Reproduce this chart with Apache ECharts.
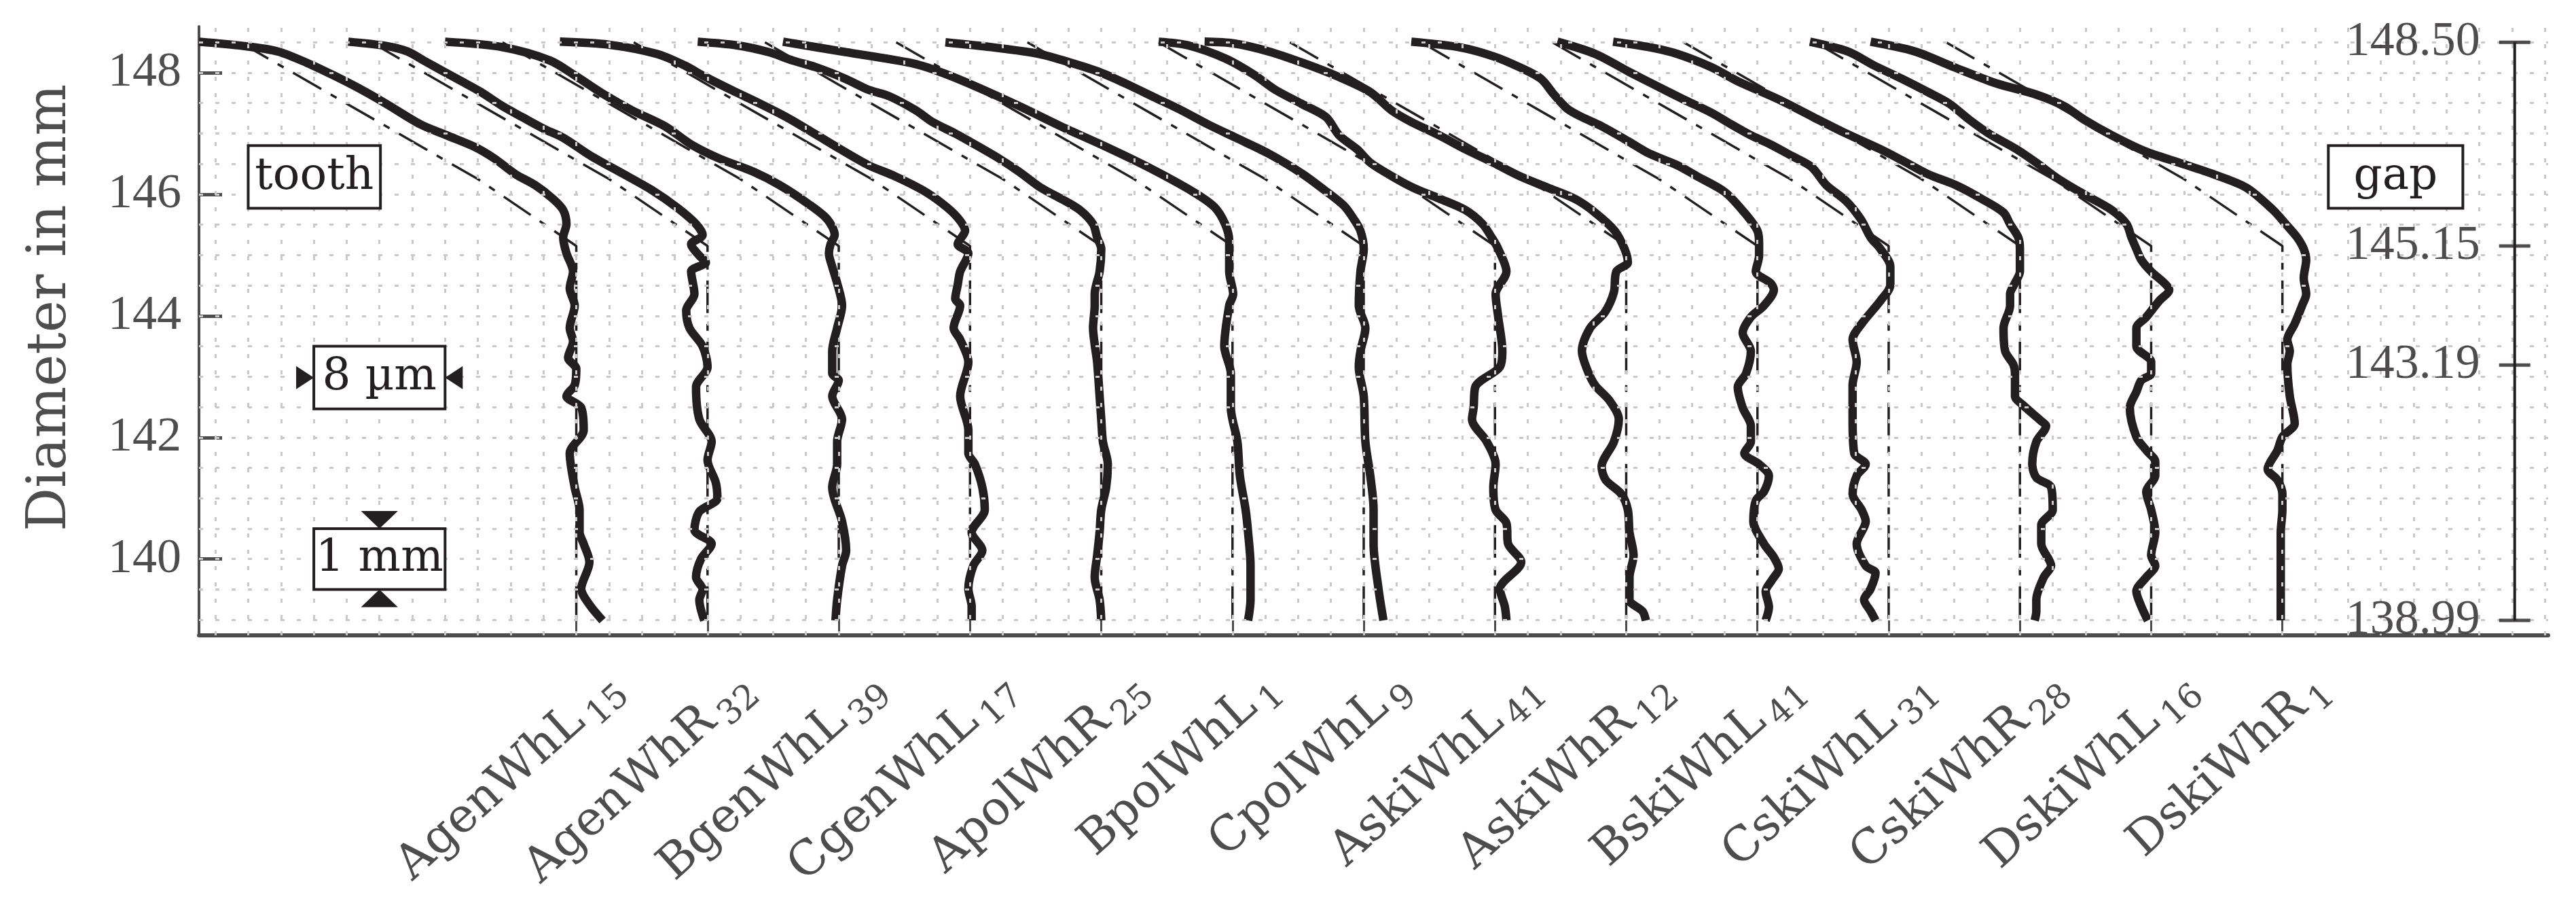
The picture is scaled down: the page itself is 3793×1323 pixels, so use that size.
<!DOCTYPE html>
<html><head><meta charset="utf-8">
<script src="https://cdn.jsdelivr.net/npm/echarts@6/dist/echarts.min.js"></script>
<style>html,body{margin:0;padding:0;background:#fff}#c{width:3793px;height:1323px}</style>
</head><body><div id="c"></div>
<script>
// ---------- data ----------
const profileNames = ['AgenWhL','AgenWhR','BgenWhL','CgenWhL','ApolWhR','BpolWhL','CpolWhL','AskiWhL','AskiWhR','BskiWhL','CskiWhL','CskiWhR','DskiWhL','DskiWhR'];
const profileSubs  = ['15','32','39','17','25','1','9','41','12','41','31','28','16','1'];

// measured profiles: [deviation from profile reference line in µm, diameter in mm]
const AgenWhL15 = [[-23.0,148.51],[-20.3,148.44],[-18.2,148.35],[-16.4,148.16],[-14.9,147.97],[-13.3,147.75],[-11.6,147.49],[-9.5,147.15],[-7.9,146.97],[-6.2,146.78],[-5.0,146.59],[-3.7,146.33],[-2.5,146.15],[-1.4,145.92],[-0.8,145.74],[-0.6,145.51],[-0.8,145.29],[-0.6,145.03],[-0.2,144.73],[-0.4,144.45],[-0.1,144.17],[-0.4,143.80],[-0.2,143.58],[-0.5,143.31],[0.0,143.13],[-0.1,142.86],[-0.6,142.68],[0.3,142.49],[0.45,142.12],[-0.4,141.74],[-0.1,141.18],[0.2,140.81],[0.2,140.44],[0.45,140.25],[0.8,139.95],[0.3,139.51],[0.8,139.25],[1.6,138.99]];
const AgenWhR32 = [[-21.9,148.51],[-19.6,148.44],[-18.3,148.35],[-17.3,148.20],[-16.3,148.05],[-15.0,147.86],[-13.8,147.68],[-12.5,147.45],[-11.3,147.27],[-10.0,147.08],[-8.8,146.93],[-7.1,146.63],[-5.1,146.33],[-3.4,146.07],[-1.8,145.77],[-0.7,145.51],[-0.3,145.33],[-1.0,145.18],[-0.5,144.99],[-0.1,144.88],[-1.0,144.73],[-0.8,144.36],[-1.3,144.09],[-1.1,143.80],[-0.3,143.50],[0.0,143.16],[-0.7,142.83],[-0.5,142.30],[0.25,141.93],[0.0,141.63],[0.5,141.26],[0.6,141.00],[-0.5,140.78],[-0.8,140.48],[0.25,140.25],[-0.4,140.00],[-0.7,139.70],[-0.3,139.50],[-0.5,139.33],[-0.2,138.99]];
const BgenWhL39 = [[-24.0,148.51],[-20.5,148.42],[-17.6,148.20],[-16.0,147.94],[-14.3,147.64],[-12.6,147.38],[-10.6,147.12],[-9.0,146.82],[-7.3,146.59],[-5.2,146.37],[-3.6,146.15],[-1.9,145.85],[-0.7,145.59],[-0.25,145.33],[-0.5,145.18],[-0.6,145.03],[-0.4,144.81],[-0.1,144.54],[0.2,144.17],[-0.1,143.80],[-0.4,143.42],[-0.4,143.05],[0.0,142.94],[-0.4,142.68],[0.2,142.30],[-0.1,141.93],[-0.1,141.56],[-0.4,141.18],[0.2,140.62],[0.45,140.14],[0.2,139.89],[-0.1,139.33],[-0.2,138.99]];
const CgenWhL17 = [[-25.0,148.51],[-22.0,148.46],[-19.1,148.31],[-17.4,148.12],[-16.2,147.94],[-14.5,147.71],[-12.8,147.49],[-11.2,147.27],[-9.5,147.00],[-7.9,146.74],[-6.2,146.48],[-4.6,146.30],[-2.9,146.07],[-1.7,145.85],[-0.8,145.63],[-0.3,145.40],[-0.75,145.18],[-0.1,145.03],[-0.6,144.73],[-0.75,144.51],[-0.9,144.28],[-0.6,144.17],[-1.0,143.80],[-0.6,143.61],[-0.1,143.24],[-0.6,142.68],[-0.1,142.12],[-0.1,141.74],[0.3,141.56],[0.75,141.18],[0.9,140.81],[0.1,140.44],[0.75,140.14],[0.2,139.89],[-0.1,139.51],[0.1,139.22],[0.1,138.99]];
const ApolWhR25 = [[-24.6,148.51],[-22.2,148.45],[-20.3,148.34],[-18.8,148.20],[-17.4,148.09],[-15.6,147.90],[-14.2,147.72],[-12.9,147.61],[-11.3,147.38],[-10.3,147.19],[-8.9,147.00],[-7.7,146.82],[-6.3,146.60],[-5.0,146.37],[-3.7,146.11],[-2.4,145.92],[-1.3,145.74],[-0.5,145.51],[-0.25,145.29],[0.0,145.10],[-0.1,144.73],[-0.4,144.36],[-0.4,144.17],[-0.5,143.80],[-0.4,143.53],[-0.25,143.24],[-0.1,142.68],[0.0,142.30],[0.1,141.93],[0.4,141.56],[0.3,141.18],[0.0,140.81],[-0.1,140.44],[-0.25,140.06],[-0.4,139.70],[-0.1,139.33],[0.0,138.99]];
const BpolWhL1  = [[-27.4,148.51],[-23.6,148.34],[-19.6,148.16],[-17.8,148.01],[-15.7,147.78],[-13.0,147.45],[-10.4,147.11],[-7.7,146.78],[-5.1,146.44],[-2.4,146.04],[-1.1,145.79],[-0.45,145.51],[-0.2,145.23],[-0.2,144.73],[0.04,144.36],[-0.2,144.17],[-0.5,143.50],[-0.1,143.05],[-0.1,142.49],[0.3,141.93],[0.45,141.37],[0.8,140.81],[0.95,140.44],[1.1,139.89],[1.1,139.33],[0.95,138.99]];
const CpolWhL9  = [[-25.5,148.50],[-22.7,148.42],[-19.8,148.31],[-17.8,148.16],[-16.1,148.01],[-14.5,147.82],[-12.8,147.60],[-11.1,147.38],[-9.5,147.15],[-7.8,146.93],[-5.8,146.67],[-3.7,146.33],[-2.4,146.07],[-1.2,145.81],[-0.6,145.59],[-0.2,145.40],[0.0,145.10],[-0.2,144.73],[-0.3,144.17],[0.1,143.80],[-0.2,143.42],[-0.3,143.16],[0.0,142.68],[0.1,141.93],[0.4,141.37],[0.6,140.81],[0.6,140.25],[0.9,139.51],[1.2,138.99]];
const AskiWhL41 = [[-20.5,148.51],[-18.7,148.45],[-16.4,148.23],[-14.7,147.97],[-13.4,147.72],[-11.8,147.49],[-10.3,147.27],[-9.5,146.97],[-8.4,146.74],[-7.6,146.52],[-6.3,146.30],[-5.0,146.11],[-3.4,145.93],[-1.8,145.74],[-0.75,145.51],[-0.2,145.29],[0.2,145.10],[0.7,144.73],[0.04,144.36],[0.2,143.98],[0.45,143.42],[0.3,143.16],[-1.2,142.83],[-1.3,142.49],[-1.4,142.30],[-0.5,141.93],[0.04,141.56],[-0.1,141.18],[0.04,140.81],[0.7,140.59],[0.8,140.25],[1.6,139.95],[0.3,139.51],[0.6,139.22],[0.7,138.99]];
const AskiWhR12 = [[-25.7,148.51],[-23.9,148.48],[-21.8,148.35],[-19.7,148.16],[-17.6,147.94],[-15.6,147.68],[-14.3,147.38],[-13.1,147.19],[-11.4,146.97],[-9.8,146.74],[-8.1,146.52],[-6.5,146.30],[-4.8,146.11],[-3.1,145.92],[-1.9,145.70],[-0.7,145.40],[-0.1,145.10],[0.1,144.88],[-0.6,144.73],[-0.75,144.39],[-1.3,144.06],[-2.2,143.80],[-2.7,143.42],[-2.4,143.13],[-1.9,142.86],[-1.0,142.60],[-0.45,142.30],[-0.75,141.93],[-1.5,141.52],[-1.25,141.30],[-0.3,141.07],[0.1,140.81],[0.2,140.44],[0.45,140.06],[0.2,139.70],[0.2,139.33],[1.0,139.14],[1.2,138.99]];
const BskiWhL41 = [[-21.1,148.51],[-18.2,148.42],[-16.1,148.27],[-14.5,148.09],[-13.2,147.90],[-12.4,147.64],[-11.6,147.41],[-10.7,147.27],[-9.5,147.12],[-7.8,146.86],[-6.6,146.67],[-4.9,146.48],[-3.7,146.30],[-2.0,146.04],[-0.8,145.70],[0.0,145.40],[0.1,145.18],[0.1,144.99],[-0.1,144.73],[0.8,144.54],[1.0,144.43],[0.4,144.17],[-0.4,143.98],[-0.9,143.72],[-0.4,143.42],[-0.7,143.05],[-1.2,142.83],[-0.9,142.49],[-0.4,142.19],[-0.4,141.93],[-0.8,141.74],[0.1,141.56],[0.7,141.37],[0.4,141.11],[-0.1,140.96],[-0.25,140.62],[0.4,140.25],[1.0,140.03],[1.3,139.84],[0.9,139.66],[0.5,139.47],[0.7,139.21],[0.5,138.99]];
const CskiWhL31 = [[-20.2,148.51],[-17.9,148.31],[-15.8,148.01],[-14.2,147.79],[-12.5,147.56],[-10.8,147.34],[-9.6,147.15],[-8.4,146.97],[-7.2,146.82],[-5.9,146.63],[-4.7,146.45],[-3.8,146.15],[-2.6,145.89],[-1.7,145.59],[-1.1,145.29],[-0.5,145.10],[0.1,144.81],[0.1,144.51],[-0.5,144.25],[-1.65,143.87],[-2.2,143.61],[-1.95,143.24],[-2.2,142.86],[-2.2,142.30],[-2.1,141.74],[-1.4,141.56],[-1.95,141.37],[-2.2,141.07],[-1.65,140.81],[-1.4,140.62],[-1.95,140.25],[-1.4,139.89],[-0.8,139.77],[-1.1,139.51],[-1.5,139.33],[-1.1,139.14],[-0.8,138.99]];
const CskiWhR28 = [[-24.8,148.51],[-22.6,148.42],[-20.9,148.31],[-18.8,148.09],[-17.2,147.86],[-14.7,147.56],[-12.6,147.27],[-10.6,147.00],[-8.5,146.74],[-7.2,146.56],[-5.6,146.33],[-3.9,146.15],[-2.3,145.92],[-1.0,145.70],[-0.6,145.51],[-0.1,145.29],[0.0,145.10],[0.0,144.73],[-0.3,144.54],[-0.6,144.36],[-0.6,144.17],[-1.0,143.80],[-0.9,143.42],[-0.4,143.20],[-0.3,143.05],[-0.3,142.68],[0.2,142.53],[1.3,142.27],[1.6,142.19],[1.0,141.93],[0.75,141.56],[1.0,141.34],[1.9,141.18],[2.0,140.81],[1.3,140.56],[1.3,140.25],[1.9,139.89],[1.45,139.70],[1.0,139.33],[1.0,139.14],[0.9,138.99]];
const DskiWhL16 = [[-20.8,148.51],[-18.5,148.35],[-16.9,148.12],[-15.2,147.90],[-13.6,147.68],[-12.3,147.49],[-11.1,147.23],[-9.9,147.00],[-8.2,146.74],[-7.0,146.52],[-5.7,146.26],[-4.1,146.00],[-2.4,145.74],[-1.5,145.51],[-1.2,145.29],[-0.9,145.10],[-0.6,144.92],[0.0,144.73],[0.8,144.54],[1.1,144.43],[0.5,144.25],[-0.3,143.98],[-0.9,143.80],[-0.9,143.50],[0.0,143.24],[0.0,143.05],[-0.6,142.94],[-0.9,142.75],[-1.3,142.49],[-0.9,142.01],[-0.3,141.79],[0.25,141.60],[0.25,141.37],[-0.3,141.11],[0.0,140.81],[0.25,140.44],[0.0,140.06],[0.25,139.89],[-0.3,139.70],[-0.9,139.47],[-0.6,139.22],[-0.2,138.99]];
const DskiWhR1  = [[-25.1,148.51],[-22.4,148.35],[-20.0,148.09],[-17.5,147.83],[-15.0,147.64],[-13.3,147.45],[-12.1,147.23],[-10.4,146.97],[-8.4,146.71],[-6.3,146.52],[-4.2,146.33],[-2.2,146.11],[-0.6,145.75],[0.3,145.48],[0.9,145.29],[1.3,145.10],[1.45,144.92],[1.3,144.62],[1.45,144.36],[1.2,144.17],[0.75,143.87],[0.3,143.61],[0.45,143.42],[0.3,143.20],[0.45,142.68],[0.75,142.23],[0.0,142.01],[-0.3,141.79],[-0.9,141.48],[-0.3,141.30],[0.0,141.07],[0.0,140.81],[-0.1,140.44],[-0.1,140.25],[-0.1,139.89],[-0.1,139.51],[-0.1,138.99]];

const profiles = [AgenWhL15,AgenWhR32,BgenWhL39,CgenWhL17,ApolWhR25,BpolWhL1,CpolWhL9,AskiWhL41,AskiWhR12,BskiWhL41,CskiWhL31,CskiWhR28,DskiWhL16,DskiWhR1];

// nominal (reference) profile, same for all: [µm offset, diameter]
const nominalProfile = [[-20.5,148.50],[-6.0,146.25],[0.0,145.15],[0.0,138.99]];

const yTickValues   = [140,142,144,146,148];
const refTickValues = [148.50,145.15,143.19,138.99];
const refTickLabels = ['148.50','145.15','143.19','138.99'];

// ---------- layout ----------
const X_MIN = 0, X_MAX = 143.2, Y_MIN = 138.745, Y_MAX = 148.76;
const CAT0 = 23, CAT_STEP = 8;           // position of profile lines on the µm axis
const LABEL_SHIFT = 2.4;
const REF_AXIS_X = 141.16;
const INK = '#231f20', AXIS = '#4d4d4d', GRIDC = '#c9c9c9';
const catU = profileNames.map((_, i) => CAT0 + CAT_STEP * i);
const gridX = []; for (let v = 1; v <= 143; v += 2) gridX.push(v);
const gridY = []; for (let v = 139.0; v <= 148.5001; v += 0.5) gridY.push(+v.toFixed(2));

const chart = echarts.init(document.getElementById('c'), null, {renderer: 'canvas'});

const series = [];
series.push({
  type: 'line', data: [], silent: true, z: 1,
  markLine: {
    silent: true, animation: false, symbol: ['none','none'], label: {show: false},
    lineStyle: {color: GRIDC, width: 3, type: [6, 18]},
    emphasis: {disabled: true},
    data: gridX.map(v => ({xAxis: v})).concat(gridY.map(v => ({yAxis: v})))
  }
});
profiles.forEach((prof, i) => {
  series.push({
    type: 'line', silent: true, showSymbol: false, z: 3,
    data: nominalProfile.map(p => [catU[i] + p[0], p[1]]),
    lineStyle: {color: INK, width: 3.5, type: [48, 16, 10, 16]}
  });
  series.push({
    type: 'line', silent: true, showSymbol: false, z: 4, smooth: 0.3,
    data: prof.map(p => [catU[i] + p[0], p[1]]),
    lineStyle: {color: INK, width: 12.5, cap: 'butt', join: 'round'}
  });
});
// reference diameter scale on the right
series.push({
  type: 'line', silent: true, showSymbol: false, z: 5,
  data: [[REF_AXIS_X, Math.min(...refTickValues)], [REF_AXIS_X, Math.max(...refTickValues)]],
  lineStyle: {color: INK, width: 4}
});
series.push({
  type: 'scatter', silent: true, z: 5,
  data: refTickValues.map(v => [REF_AXIS_X, v]),
  symbol: 'rect', symbolSize: [46, 5], itemStyle: {color: INK},
  label: {show: true, position: 'left', distance: 28, color: INK,
          fontFamily: 'Liberation Serif', fontSize: 72,
          formatter: p => refTickLabels[p.dataIndex]}
});

const option = {
  animation: false,
  backgroundColor: '#fff',
  grid: {left: 293, right: 41, top: 39, bottom: 388, containLabel: false, outerBoundsMode: 'none'},
  xAxis: {
    type: 'value', min: X_MIN, max: X_MAX,
    axisLine: {show: true, onZero: false, lineStyle: {color: AXIS, width: 6}},
    axisTick: {show: true, inside: true, length: 22, customValues: catU, lineStyle: {color: AXIS, width: 3}},
    splitLine: {show: false},
    axisLabel: {
      show: true, rotate: 42, margin: 68, customValues: catU.map(v => v + LABEL_SHIFT),
      formatter: v => { const i = Math.round((v - LABEL_SHIFT - CAT0) / CAT_STEP); return '{m|' + profileNames[i] + '}{s|' + profileSubs[i] + '}'; },
      rich: {
        m: {fontFamily: 'DejaVu Serif', fontSize: 70, color: AXIS, lineHeight: 90},
        s: {fontFamily: 'DejaVu Serif', fontSize: 50, color: AXIS, lineHeight: 50, verticalAlign: 'bottom', padding: [0, 0, 0, 10]}
      }
    }
  },
  yAxis: {
    type: 'value', min: Y_MIN, max: Y_MAX,
    name: 'Diameter in mm', nameLocation: 'middle', nameGap: 178, nameRotate: 90,
    nameTextStyle: {fontFamily: 'DejaVu Serif', fontSize: 80, color: AXIS, padding: [0, 0, 0, 68]},
    axisLine: {show: true, lineStyle: {color: AXIS, width: 4}},
    axisTick: {show: true, inside: true, length: 34, customValues: yTickValues, lineStyle: {color: AXIS, width: 5}},
    axisLabel: {show: true, margin: 26, customValues: yTickValues, fontFamily: 'Liberation Serif', fontSize: 72, color: AXIS},
    splitLine: {show: false}
  },
  series: series
};
chart.setOption(option);

// ---------- annotation boxes (placed in data coordinates) ----------
const boxes = [
  {text: 'tooth', x0: 3.0,   x1: 11.06, y0: 145.77, y1: 146.80},
  {text: 'gap',   x0: 129.8, x1: 138.0, y0: 145.77, y1: 146.80},
  {text: '8 µm',  x0: 7.0,   x1: 15.0,  y0: 142.47, y1: 143.50, arrows: 'h'},
  {text: '1 mm',  x0: 7.0,   x1: 15.0,  y0: 139.50, y1: 140.50, arrows: 'v'}
];
const px = (x, y) => chart.convertToPixel({gridIndex: 0}, [x, y]);
const gfx = [];
boxes.forEach(b => {
  const a = px(b.x0, b.y1), c = px(b.x1, b.y0);
  const L = a[0], T = a[1], R = c[0], B = c[1];
  gfx.push({type: 'rect', z: 100, shape: {x: L, y: T, width: R - L, height: B - T},
            style: {fill: '#fff', stroke: INK, lineWidth: 4}});
  gfx.push({type: 'text', z: 101, style: {text: b.text, x: (L + R) / 2, y: (T + B) / 2,
            align: 'center', verticalAlign: 'middle', textAlign: 'center', textVerticalAlign: 'middle',
            font: '66px "DejaVu Serif"', fill: INK}});
  const cx = (L + R) / 2, cy = (T + B) / 2, hb = 17, d = 26;
  if (b.arrows === 'h') {
    gfx.push({type: 'polygon', z: 101, shape: {points: [[L, cy], [L - d, cy - hb], [L - d, cy + hb]]}, style: {fill: INK}});
    gfx.push({type: 'polygon', z: 101, shape: {points: [[R, cy], [R + d, cy - hb], [R + d, cy + hb]]}, style: {fill: INK}});
  } else if (b.arrows === 'v') {
    gfx.push({type: 'polygon', z: 101, shape: {points: [[cx, T], [cx - hb * 1.6, T - d], [cx + hb * 1.6, T - d]]}, style: {fill: INK}});
    gfx.push({type: 'polygon', z: 101, shape: {points: [[cx, B], [cx - hb * 1.6, B + d], [cx + hb * 1.6, B + d]]}, style: {fill: INK}});
  }
});
chart.setOption({graphic: {elements: gfx}});
</script>
</body></html>
